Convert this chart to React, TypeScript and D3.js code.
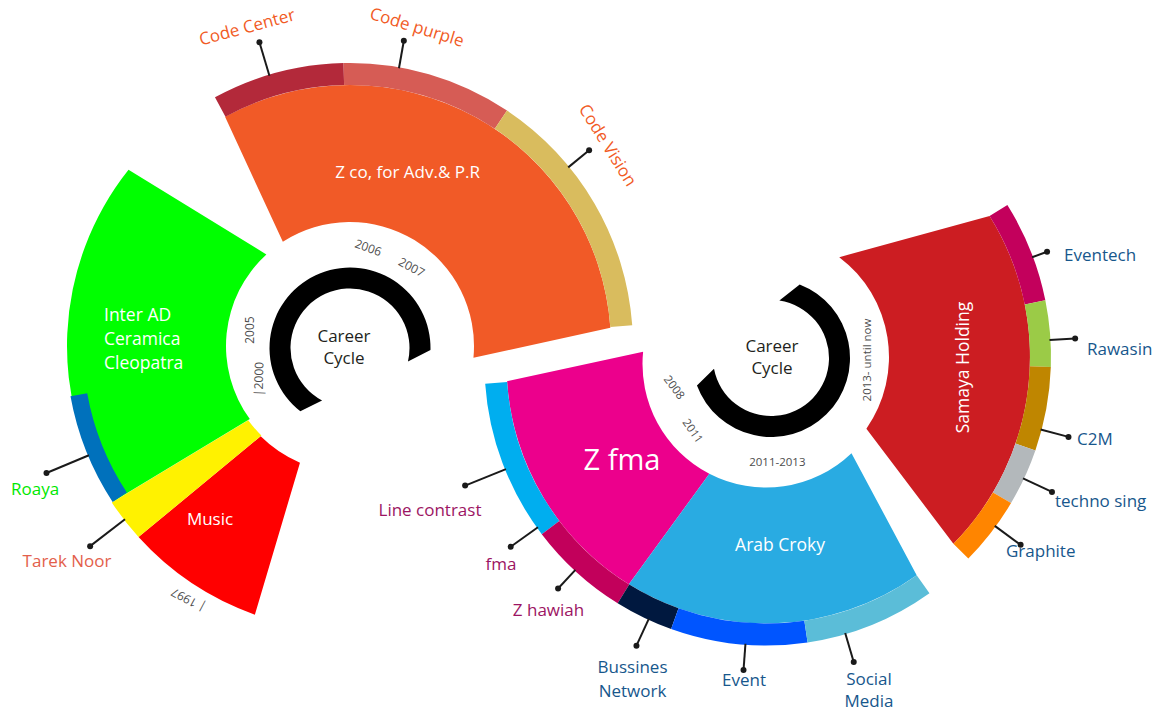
import React, { useRef, useEffect } from "react";
import * as d3 from "d3";

const W = 1157;
const H = 715;

// angles are degrees, clockwise from 12 o'clock.
// "In" = angle where the edge meets the inner radius, "Out" = at the outer radius

// ---------- left wheel: 1997 - 2007 ----------
const leftJobs = ["Music", "Tarek Noor", "Inter AD|Ceramica|Cleopatra", "Z co, for Adv.& P.R"];
const leftJobColors = ["#ff0000", "#fff200", "#00ff00", "#f15a27"];
const leftJobStartIn = [-156.8, -135.3, -126.1, -32.8];
const leftJobStartOut = [-160.5, -132.1, -123.3, -28.6];
const leftJobEndIn = [-135.3, -126.1, -42.4, 95.4];
const leftJobEndOut = [-132.1, -123.3, -51.5, 86.0];

const leftClients = ["Roaya", "Code Center", "Code purple", "Code Vision"];
const leftClientColors = ["#0071bc", "#b3293a", "#d65c55", "#d9bc5e"];
const leftClientStart = [-123.3, -28.5, -1.3, 33.7];
const leftClientEnd = [-100.2, -1.3, 33.7, 85.8];

const leftCallouts = ["Roaya", "Tarek Noor", "Code Center", "Code purple", "Code Vision"];
const leftCalloutAngle = [-112.7, -127.6, -16.6, 10, 50.7];

const leftYears = ["2006", "2007", "2005", "|2000", "| 1997"];
const leftYearAngle = [10.5, 38, -80.9, -109.9, -147.5];

// ---------- right wheel: 2008 - now ----------
const rightJobs = ["Z fma", "Arab Croky", "Samaya Holding"];
const rightJobColors = ["#ec008c", "#29abe2", "#cc1d22"];
const rightJobStartIn = [207.3, 136.2, 37];
const rightJobStartOut = [211.9, 144.5, 58];
const rightJobEndIn = [275.7, 207.3, 125];
const rightJobEndOut = [266.2, 211.9, 134.6];

const rightClients = ["Line contrast", "Z hawiah", "Bussines Network", "Event", "Social Media"];
const rightClientColors = ["#00aeef", "#c2005b", "#00183f", "#0055ff", "#5bbdd8"];
const rightClientStart = [232.8, 211.8, 199.7, 171.5, 144.5];
const rightClientEnd = [266, 232.8, 211.8, 199.7, 171.5];

const samayaClients = ["Eventech", "Rawasin", "C2M", "techno sing", "Graphite"];
const samayaClientColors = ["#c3005c", "#9bcb47", "#bf8600", "#b3b8bb", "#ff8500"];
const samayaClientStart = [58, 78.6, 92, 109, 120.6];
const samayaClientEnd = [78.6, 92, 109, 120.6, 134.6];

const rightCallouts = ["Line contrast", "fma", "Z hawiah", "Bussines Network", "Event", "Social Media"];
const rightCalloutAngle = [248, 234.4, 222.8, 204.7, 184.2, 163.6];
const samayaCalloutAngle = [69.6, 86.6, 104.7, 115.1, 126.2];

const rightYears = ["2008", "2011", "2011-2013", "2013- until now"];
const rightYearAngle = [-106.9, -133, 176.5, 91.2];

// career cycle rings [startIn, startOut, endIn, endOut]
const leftCycle = [-152, -141.9, 103, 91.4];
const rightCycle = [8.3, 21.3, 259.3, 249.6];

// ---------- layout ----------
const C1: [number, number] = [350, 346]; // left wheel
const C1ring: [number, number] = [350, 348];
const C2: [number, number] = [766, 364]; // Z fma + Arab Croky
const C3: [number, number] = [764, 357]; // Samaya
const C2ring: [number, number] = [771, 358];

const FONT = "'Open Sans', 'Noto Sans', sans-serif";

const rad = d3.scaleLinear().domain([0, 360]).range([0, 2 * Math.PI]);

function polar(c: [number, number], r: number, deg: number): [number, number] {
  const a = rad(deg);
  return [c[0] + r * Math.sin(a), c[1] - r * Math.cos(a)];
}

function wedge(c: [number, number], r0: number, r1: number, a0i: number, a0o: number, a1i: number, a1o: number) {
  const p = d3.path();
  const q = Math.PI / 2;
  const s = polar(c, r1, a0o);
  p.moveTo(s[0], s[1]);
  p.arc(c[0], c[1], r1, rad(a0o) - q, rad(a1o) - q, false);
  const e = polar(c, r0, a1i);
  p.lineTo(e[0], e[1]);
  p.arc(c[0], c[1], r0, rad(a1i) - q, rad(a0i) - q, true);
  p.closePath();
  return p.toString();
}

const App: React.FC = () => {
  const svgRef = useRef<SVGSVGElement>(null);

  useEffect(() => {
    if (!svgRef.current) return;
    const svg = d3.select(svgRef.current);
    svg.selectAll("*").remove();
    svg.style("font-family", FONT);

    const text = (
      t: string,
      x: number,
      y: number,
      o: { size?: number; fill?: string; anchor?: string; rotate?: number; center?: boolean } = {}
    ) =>
      svg
        .append("text")
        .attr("transform", `translate(${x},${y}) rotate(${o.rotate ?? 0})`)
        .attr("text-anchor", o.anchor ?? "middle")
        .attr("dy", o.center ? "0.35em" : null)
        .attr("font-size", o.size ?? 17)
        .attr("fill", o.fill ?? "#231f20")
        .text(t);

    const callout = (c: [number, number], deg: number, r0: number, r1: number) => {
      const a = polar(c, r0, deg);
      const b = polar(c, r1, deg);
      svg.append("line")
        .attr("x1", a[0]).attr("y1", a[1]).attr("x2", b[0]).attr("y2", b[1])
        .attr("stroke", "#1a1a1a").attr("stroke-width", 2);
      svg.append("circle").attr("cx", b[0]).attr("cy", b[1]).attr("r", 3).attr("fill", "#1a1a1a");
    };

    // ---- left wheel ----
    const leftOuter = [285, 285, 283, 261];
    const leftInner = [127, 126, 124, 124];
    svg.append("g").selectAll("path").data(leftJobs).join("path")
      .attr("d", (_, i) => wedge(C1, leftInner[i], leftOuter[i], leftJobStartIn[i], leftJobStartOut[i], leftJobEndIn[i], leftJobEndOut[i]))
      .attr("fill", (_, i) => leftJobColors[i]);

    const leftRingIn = [267, 261, 261, 261];
    const leftRingOut = [284, 283, 283, 283];
    svg.append("g").selectAll("path").data(leftClients).join("path")
      .attr("d", (_, i) => wedge(C1, leftRingIn[i], leftRingOut[i], leftClientStart[i], leftClientStart[i], leftClientEnd[i], leftClientEnd[i]))
      .attr("fill", (_, i) => leftClientColors[i]);

    svg.append("path")
      .attr("d", wedge(C1ring, 59.5, 80.5, leftCycle[0], leftCycle[1], leftCycle[2], leftCycle[3]))
      .attr("fill", "#000");

    const leftDot = [329, 328, 317, 310, 309];
    const leftFrom = [283, 284, 282, 282, 282];
    leftCallouts.forEach((_, i) => callout(C1, leftCalloutAngle[i], leftFrom[i], leftDot[i]));

    text("Roaya", 11, 495, { anchor: "start", fill: "#00e800" });
    text("Tarek Noor", 67, 567, { fill: "#e3604b" });
    text("Code Center", 247, 27, { fill: "#f15a24", rotate: -15, center: true });
    text("Code purple", 417, 27, { fill: "#f15a24", rotate: 17, center: true });
    text("Code Vision", 608, 145, { fill: "#f15a24", rotate: 58, center: true });

    text("Z co, for Adv.& P.R", 407.5, 178, { fill: "#fff" });
    leftJobs[2].split("|").forEach((l, i) => text(l, 104, 321 + i * 24, { fill: "#fff", anchor: "start", size: 17.5 }));
    text(leftJobs[0], 210, 525, { fill: "#fff" });

    text("Career", 344, 342);
    text("Cycle", 344, 364);

    const leftYearR = [100, 100, 101, 97, 301];
    const leftYearRot = [20, 28, -90, -88, 208];
    leftYears.forEach((y, i) => {
      const p = polar(C1, leftYearR[i], leftYearAngle[i]);
      text(y, p[0], p[1], { size: 12, fill: "#4d4d4d", rotate: leftYearRot[i], center: true });
    });

    // ---- right wheel ----
    const rightInner = [123.5, 123.5, 125];
    const rightOuter = [259.5, 259.5, 266];
    const rightCenters = [C2, C2, C3];
    svg.append("g").selectAll("path").data(rightJobs).join("path")
      .attr("d", (_, i) => wedge(rightCenters[i], rightInner[i], rightOuter[i], rightJobStartIn[i], rightJobStartOut[i], rightJobEndIn[i], rightJobEndOut[i]))
      .attr("fill", (_, i) => rightJobColors[i]);

    svg.append("g").selectAll("path").data(rightClients).join("path")
      .attr("d", (_, i) => wedge(C2, 259.5, 281.5, rightClientStart[i], rightClientStart[i], rightClientEnd[i], rightClientEnd[i]))
      .attr("fill", (_, i) => rightClientColors[i]);

    svg.append("g").selectAll("path").data(samayaClients).join("path")
      .attr("d", (_, i) => wedge(C3, 266, 287, samayaClientStart[i], samayaClientStart[i], samayaClientEnd[i], samayaClientEnd[i]))
      .attr("fill", (_, i) => samayaClientColors[i]);

    svg.append("path")
      .attr("d", wedge(C2ring, 58, 79, rightCycle[0], rightCycle[1], rightCycle[2], rightCycle[3]))
      .attr("fill", "#000");

    const rightDot = [324.5, 314, 306, 310, 306.8, 310.7];
    rightCallouts.forEach((_, i) => callout(C2, rightCalloutAngle[i], 280.5, rightDot[i]));
    const samayaDot = [302, 311.7, 314.8, 318, 318];
    samayaClients.forEach((_, i) => callout(C3, samayaCalloutAngle[i], 286, samayaDot[i]));

    const magenta = "#9c1463";
    const navy = "#17578c";
    text("Line contrast", 430, 516, { fill: magenta });
    text("fma", 501, 570, { fill: magenta });
    text("Z hawiah", 548.5, 616, { fill: magenta });
    text("Bussines", 632.5, 673, { fill: navy });
    text("Network", 632.5, 697, { fill: navy });
    text("Event", 744, 686, { fill: navy });
    text("Social", 869, 685, { fill: navy });
    text("Media", 869, 707, { fill: navy });

    const samayaTextX = [1064, 1087, 1077, 1055, 1006];
    const samayaTextY = [261, 355, 445, 507, 557];
    samayaClients.forEach((n, i) => text(n, samayaTextX[i], samayaTextY[i], { fill: navy, anchor: "start" }));

    text(rightJobs[0], 622, 470, { fill: "#fff", size: 29 });
    text(rightJobs[1], 780, 551, { fill: "#fff", size: 17.5 });
    text(rightJobs[2], 963, 367.5, { fill: "#fff", size: 17.5, rotate: -90, center: true });

    text("Career", 772, 352);
    text("Cycle", 772, 374);

    const rightYearR = [101, 106.8, 104, 95.7];
    const rightYearRot = [53, 55, 0, -90];
    rightYears.forEach((y, i) => {
      const p = polar(C2ring, rightYearR[i], rightYearAngle[i]);
      text(y, p[0], p[1], { size: 11.5, fill: "#4d4d4d", rotate: rightYearRot[i], center: true });
    });

    return () => {
      svg.selectAll("*").remove();
    };
  }, []);

  return (
    <svg
      ref={svgRef}
      width={W}
      height={H}
      style={{ position: "absolute", left: 0, top: 0, background: "#fff" }}
    />
  );
};

export default App;
